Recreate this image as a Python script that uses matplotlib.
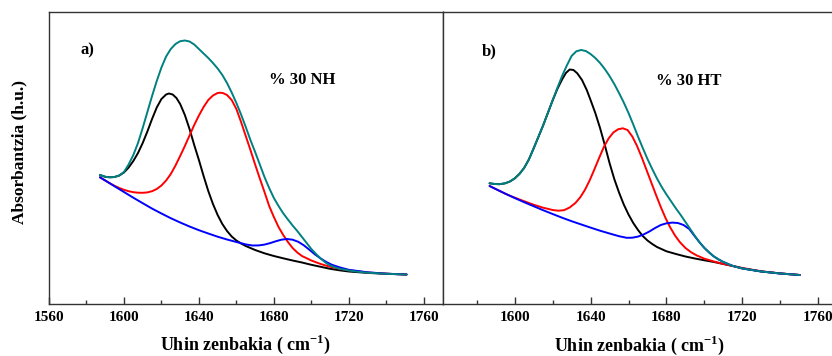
import numpy as np
import matplotlib
matplotlib.use("Agg")
import matplotlib.pyplot as plt
from matplotlib.ticker import MultipleLocator

# Deconvoluted amide I band, two samples (a: 30 NH, b: 30 HT)
# absorbance in arbitrary units (no y ticks on the original)

# ---- panel a) ----
a_sum_x = [1587.2, 1590, 1592.5, 1595, 1597.5, 1600, 1602.5, 1605, 1607.5, 1610, 1612.5, 1615,
           1617.5, 1620, 1622.5, 1625, 1627.5, 1630, 1632.5, 1635, 1637.5, 1640, 1642.5, 1645,
           1647.5, 1650, 1652.5, 1655, 1657.5, 1660, 1662.5, 1665, 1667.5, 1670, 1672.5, 1675,
           1677.5, 1680, 1682.5, 1685, 1687.5, 1690, 1692.5, 1695, 1697.5, 1700, 1702.5, 1705,
           1707.5, 1710, 1712.5, 1715, 1720, 1725, 1730, 1740, 1750.8]
a_sum_y = [129, 127.2, 126.7, 127, 128.5, 132, 139.5, 149, 161, 176, 192, 208,
           223, 236.5, 247.5, 255, 260, 262.8, 263.5, 262.5, 259.5, 255, 250.5, 246,
           241, 235.5, 229, 221, 211.5, 201, 189.5, 177, 164, 152, 139.5, 127,
           116, 106, 98, 90.7, 84.5, 78.5, 73, 67, 61, 55, 50, 45.5,
           41.5, 38.5, 36.7, 35.3, 33.5, 32.2, 31.3, 30.2, 29.5]

a_k1_x = [1587.2, 1590, 1592.5, 1595, 1597.5, 1600, 1602.5, 1605, 1607.5, 1610, 1612.5, 1615,
          1617.5, 1620, 1622.5, 1624, 1626, 1628, 1630, 1632.5, 1635, 1637.5, 1640, 1642.5,
          1645, 1647.5, 1650, 1652.5, 1655, 1657.5, 1660, 1662.5, 1665, 1670, 1675, 1680,
          1685, 1690, 1695, 1700, 1705, 1710, 1715, 1720, 1730, 1740, 1750.8]
a_k1_y = [129, 127.2, 126.7, 127, 128.5, 131.5, 136.5, 143, 151, 161, 172.5, 185,
          196.5, 205, 209.5, 210.5, 209.5, 206, 200, 189, 175, 159, 144, 128,
          113, 100, 89, 80, 73, 67.5, 63.5, 60.5, 58, 54, 50.7, 48,
          45.7, 43.5, 41.5, 39.2, 37.2, 35.2, 33.7, 32.5, 31.1, 30.2, 29.5]

a_k2_x = [1587.2, 1590, 1592.5, 1595, 1597.5, 1600, 1602.5, 1605, 1607.5, 1610, 1612.5, 1615,
          1617.5, 1620, 1622.5, 1625, 1627.5, 1630, 1632.5, 1635, 1637.5, 1640, 1642.5, 1645,
          1647.5, 1650, 1651.5, 1653, 1655, 1657.5, 1660, 1662.5, 1665, 1667.5, 1670, 1672.5,
          1675, 1677.5, 1680, 1682.5, 1685, 1687.5, 1690, 1692.5, 1695, 1700, 1705, 1710,
          1715, 1720, 1730, 1740, 1750.8]
a_k2_y = [126.7, 123.5, 120.7, 118.2, 116, 114.2, 112.8, 111.8, 111.3, 111.2, 111.6, 112.8,
          115, 118.5, 123.5, 130, 138.5, 148, 158, 168.5, 179, 188.5, 197, 204,
          208.5, 211, 211.3, 210.8, 209, 204, 195, 182, 168, 154, 139.5, 125.5,
          112, 98, 87, 77, 69, 62, 56, 51.5, 48, 43.5, 40, 37.2,
          35.3, 33.7, 31.5, 30.3, 29.5]

a_k3_x = [1587.2, 1590, 1592.5, 1595, 1600, 1605, 1610, 1615, 1620, 1625, 1630, 1635,
          1640, 1645, 1650, 1655, 1660, 1665, 1668.5, 1672, 1675, 1678, 1681, 1684,
          1687, 1690, 1693, 1696, 1699, 1702, 1705, 1708, 1711, 1715, 1720, 1730,
          1740, 1750.8]
a_k3_y = [126.7, 123.5, 120.6, 117.7, 112, 106.3, 100.8, 95.4, 90.5, 85.8, 81.5, 77.5,
          73.8, 70.5, 67.3, 64.5, 62, 59.6, 58.5, 58.6, 59.4, 60.9, 62.7, 64.3,
          65, 64.3, 62.2, 58.7, 54.2, 49.5, 45.5, 42, 39.2, 36.7, 34.2, 31.7,
          30.3, 29.5]

# ---- panel b) ----
b_sum_x = [1586.8, 1589.5, 1592.1, 1595, 1597.5, 1600, 1602.5, 1605, 1607.5, 1610, 1612.5, 1615,
           1617.5, 1620, 1622.5, 1625, 1627.5, 1630, 1632.5, 1635, 1637.5, 1640, 1642.5, 1645,
           1647.5, 1650, 1652.5, 1655, 1657.5, 1660, 1662.5, 1665, 1667.5, 1670, 1672.5, 1675,
           1677.5, 1680, 1682.5, 1685, 1687.5, 1690, 1692.5, 1695, 1697.5, 1700, 1702.5, 1705,
           1707.5, 1710, 1715, 1720, 1730, 1740, 1750.2]
b_sum_y = [120.7, 120, 119.8, 120.7, 122.5, 125.5, 130, 136, 144.5, 155.5, 167, 178.5,
           191, 203.5, 216, 228, 238.5, 248, 252.7, 254, 253, 250, 246, 241,
           235, 228, 220, 211, 201.5, 191, 179.5, 167.5, 156, 145, 135, 125.5,
           117, 109.5, 102.5, 95.5, 89, 82, 75, 68, 61.5, 56, 51.5, 47.5,
           44.5, 42, 38, 35.5, 32.5, 30.5, 29]

b_k1_x = [1586.8, 1589.5, 1592.1, 1595, 1597.5, 1600, 1602.5, 1605, 1607.5, 1610, 1612.5, 1615,
          1617.5, 1620, 1622.5, 1625, 1627, 1629, 1631, 1633, 1635.5, 1638, 1640, 1642.5,
          1645, 1647.5, 1650, 1652.5, 1655, 1657.5, 1660, 1662.5, 1665, 1667.5, 1670, 1672.5,
          1675, 1680, 1685, 1690, 1695, 1700, 1705, 1710, 1715, 1720, 1730, 1740, 1750.2]
b_k1_y = [120.7, 120, 119.8, 120.7, 122.5, 125.5, 130, 136, 144.5, 155.5, 167, 178.5,
          191, 203.5, 215, 224.5, 231, 234.5, 234, 230.7, 224, 214, 204, 191,
          176, 159, 141, 125, 111.5, 99.5, 89.5, 81, 74, 68, 63.5, 60,
          57, 52.7, 50, 47.5, 45.5, 43.7, 42, 40, 38, 35.7, 32.5, 30.5, 29]

b_k2_x = [1586.8, 1590, 1592.5, 1595, 1597.5, 1600, 1605, 1610, 1615, 1620, 1623, 1626,
          1629, 1632, 1634.5, 1637, 1639.5, 1642, 1644.5, 1647, 1649.5, 1652, 1654.5, 1657,
          1659.5, 1662, 1664.5, 1667, 1669.5, 1672, 1674.5, 1677, 1679.5, 1682, 1684.5, 1687,
          1690, 1693, 1696, 1700, 1705, 1710, 1715, 1720, 1730, 1740, 1750.2]
b_k2_y = [118, 115, 112.7, 110.4, 108.3, 106.4, 102.8, 99.3, 96.3, 94, 93.3, 93.8,
          96.5, 101, 106.5, 114, 123.5, 134.5, 146, 157, 165.5, 171.5, 174.7, 175.7,
          174, 167.5, 158, 146.5, 134, 121.5, 109, 97, 86, 76.5, 68.5, 62,
          56, 51.7, 48.5, 45.3, 42.5, 40, 38, 36, 32.7, 30.6, 29]

b_k3_x = [1586.8, 1590, 1592.5, 1595, 1600, 1605, 1610, 1615, 1620, 1625, 1630, 1635,
          1640, 1645, 1650, 1655, 1659, 1662, 1665, 1668, 1671, 1674, 1677, 1680,
          1683, 1686, 1689, 1692, 1695, 1697.5, 1700, 1702.5, 1705, 1707.5, 1710, 1715,
          1720, 1730, 1740, 1750.2]
b_k3_y = [118, 115, 112.7, 110.4, 106, 101.8, 97.8, 93.8, 90, 86.3, 82.8, 79.6,
          76.4, 73.3, 70.5, 67.8, 66.2, 66.3, 67.4, 69.6, 72.5, 76, 79, 80.7,
          81.4, 81, 79, 75, 67.5, 61.5, 56, 51.5, 47.5, 44.5, 42, 38,
          35.5, 32.5, 30.5, 29]

panels = [
    dict(sum=(a_sum_x, a_sum_y), k1=(a_k1_x, a_k1_y), k2=(a_k2_x, a_k2_y), k3=(a_k3_x, a_k3_y),
         tag="a)", name="% 30 NH", xlim=(1560, 1770)),
    dict(sum=(b_sum_x, b_sum_y), k1=(b_k1_x, b_k1_y), k2=(b_k2_x, b_k2_y), k3=(b_k3_x, b_k3_y),
         tag="b)", name="% 30 HT", xlim=(1562, 1770)),
]

plt.rcParams['font.family'] = ['Liberation Serif', 'DejaVu Serif']
plt.rcParams['font.weight'] = 'bold'
plt.rcParams['mathtext.fontset'] = 'custom'
plt.rcParams['mathtext.rm'] = 'Liberation Serif:bold'

fig = plt.figure(figsize=(8.32, 3.56), dpi=100)
ax1 = fig.add_axes([49 / 832, 52 / 356, 393.5 / 832, 292 / 356])
ax2 = fig.add_axes([442.5 / 832, 52 / 356, 394.8 / 832, 292 / 356])

tag_pos = [(0.08, 0.855), (0.10, 0.85)]
name_pos = [(0.56, 0.755), (0.54, 0.75)]

for i, (ax, p) in enumerate(zip([ax1, ax2], panels)):
    kw = dict(lw=1.4, solid_joinstyle='round', solid_capstyle='round')
    ax.plot(*p["k1"], color='black', **kw)
    ax.plot(*p["k2"], color='#ff0000', **kw)
    ax.plot(*p["k3"], color='#0000ff', **kw)
    ax.plot(*p["sum"], color='#008080', **kw)
    ax.set_xlim(*p["xlim"])
    ax.set_ylim(0, 292)
    ax.xaxis.set_major_locator(MultipleLocator(40))
    ax.xaxis.set_minor_locator(MultipleLocator(20))
    ax.tick_params(axis='x', which='major', direction='in', length=5, width=1, colors='#333333',
                   labelcolor='black', labelsize=11, pad=5)
    ax.tick_params(axis='x', which='minor', direction='in', length=3, width=1, colors='#333333')
    ax.set_yticks([])
    for s in ax.spines.values():
        s.set_color('#333333')
        s.set_linewidth(1.0)
    for lab in ax.get_xticklabels():
        lab.set_fontweight('bold')
    ax.text(*tag_pos[i], p["tag"], transform=ax.transAxes, fontsize=12, fontweight='bold')
    ax.text(*name_pos[i], p["name"], transform=ax.transAxes, fontsize=12, fontweight='bold')

xlab = "Uhin zenbakia ( cm$^{\\mathrm{-1}}$)"
ax1.set_ylabel("Absorbantzia (h.u.)", fontsize=12.5, fontweight='bold')
ax1.yaxis.set_label_coords(-0.055, 0.52)
ax1.set_xlabel(xlab, fontsize=13, fontweight='bold', labelpad=6)
ax2.set_xlabel(xlab, fontsize=13, fontweight='bold', labelpad=7)

fig.savefig("out.png", dpi=100)
